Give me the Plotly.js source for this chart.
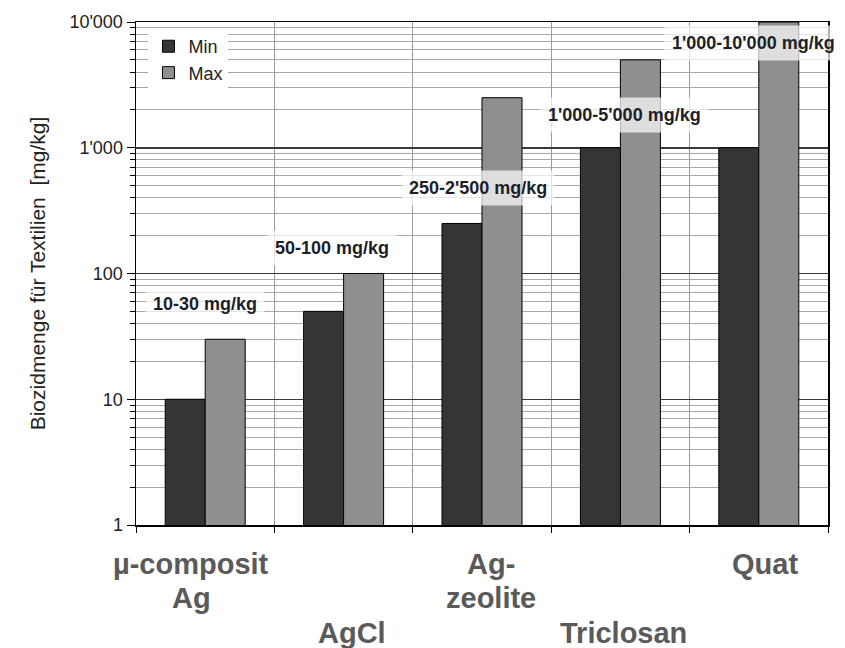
<!DOCTYPE html>
<html>
<head>
<meta charset="utf-8">
<script src="https://cdn.plot.ly/plotly-3.0.1.min.js"></script>
<style>html,body{margin:0;padding:0;background:#fff;}#chart{width:845px;height:648px;}</style>
</head>
<body>
<div id="chart"></div>
<script>
// ---- data ----
const categories = ["µ-composit<br>Ag", "AgCl", "Ag-<br>zeolite", "Triclosan", "Quat"];
const minValues = [10, 50, 250, 1000, 1000];
const maxValues = [30, 100, 2500, 5000, 10000];
const rangeLabels = ["10-30 mg/kg", "50-100 mg/kg", "250-2'500 mg/kg", "1'000-5'000 mg/kg", "1'000-10'000 mg/kg"];
const yTickVals = [1, 10, 100, 1000, 10000];
const yTickText = ["1", "10", "100", "1'000", "10'000"];

// ---- label placement (layout only) ----
const rangeLabelLogY = [1.758, 2.203, 2.68, 3.26, 3.833];
const rangeLabelShift = [0, -12, -4, 4, -5];
const catLabelFirstLineShift = [-39, -108, -39, -108, -39];
const catLabelLineStep = 34;
const catLabelXShift = [-14, 8, 9, 3, 6];

const catKeys = categories.map((c, i) => "c" + i);
const FONT = "Liberation Sans, Arial, sans-serif";

const traces = [
  {
    type: "bar", name: "Min", x: catKeys, y: minValues,
    marker: {color: "#353535", line: {color: "#000", width: 1}}
  },
  {
    type: "bar", name: "Max", x: catKeys, y: maxValues,
    marker: {color: "#8f8f8f", line: {color: "#000", width: 1}}
  }
];

const annotations = [];
rangeLabels.forEach((t, i) => {
  annotations.push({
    x: catKeys[i], y: rangeLabelLogY[i], xref: "x", yref: "y",
    text: t, showarrow: false, xshift: rangeLabelShift[i],
    font: {family: FONT, size: 18, color: "#1e1e28", weight: "bold"},
    bgcolor: "rgba(255,255,255,0.7)", borderpad: 7
  });
});
categories.forEach((t, i) => {
  t.split("<br>").forEach((line, j) => {
    annotations.push({
      x: catKeys[i], y: 0, xref: "x", yref: "paper",
      yanchor: "middle", yshift: catLabelFirstLineShift[i] - j * catLabelLineStep,
      xshift: catLabelXShift[i],
      text: "<b>" + line + "</b>", showarrow: false,
      font: {family: FONT, size: 29, color: "#5a5a5a"}
    });
  });
});

const layout = {
  width: 845, height: 648,
  margin: {l: 136, r: 17, t: 22, b: 123},
  paper_bgcolor: "#fff", plot_bgcolor: "#fff",
  barmode: "group", bargap: 0.422, bargroupgap: 0,
  showlegend: true,
  legend: {
    x: 0.018, y: 0.988, xanchor: "left", yanchor: "top",
    bgcolor: "#fff", borderwidth: 0, itemwidth: 30, tracegroupgap: 0,
    font: {family: FONT, size: 18, color: "#222"}
  },
  xaxis: {
    type: "category", tickson: "boundaries", range: [-0.5, 4.5], autorange: false,
    showticklabels: false,
    showgrid: true, gridcolor: "#9a9a9a", gridwidth: 1,
    ticks: "outside", ticklen: 6, tickcolor: "#000",
    showline: true, linecolor: "#000", linewidth: 1.5, mirror: true,
    zeroline: false
  },
  yaxis: {
    type: "log", range: [0, 4], autorange: false,
    tickvals: yTickVals, ticktext: yTickText,
    tickfont: {family: FONT, size: 18, color: "#222"},
    ticks: "outside", ticklen: 8, tickcolor: "#000",
    showgrid: true, gridcolor: "#3a3a3a", gridwidth: 1.5,
    minor: {dtick: "D1", showgrid: true, gridcolor: "#a8a8a8", gridwidth: 1, ticks: "outside", ticklen: 5, tickcolor: "#000"},
    showline: true, linecolor: "#000", linewidth: 1.5, mirror: true,
    zeroline: false,
    title: {
      text: "Biozidmenge für Textilien  [mg/kg]", standoff: 18,
      font: {family: FONT, size: 21, color: "#222"}
    }
  },
  annotations: annotations
};

Plotly.newPlot("chart", traces, layout, {displayModeBar: false, staticPlot: true});
</script>
</body>
</html>
